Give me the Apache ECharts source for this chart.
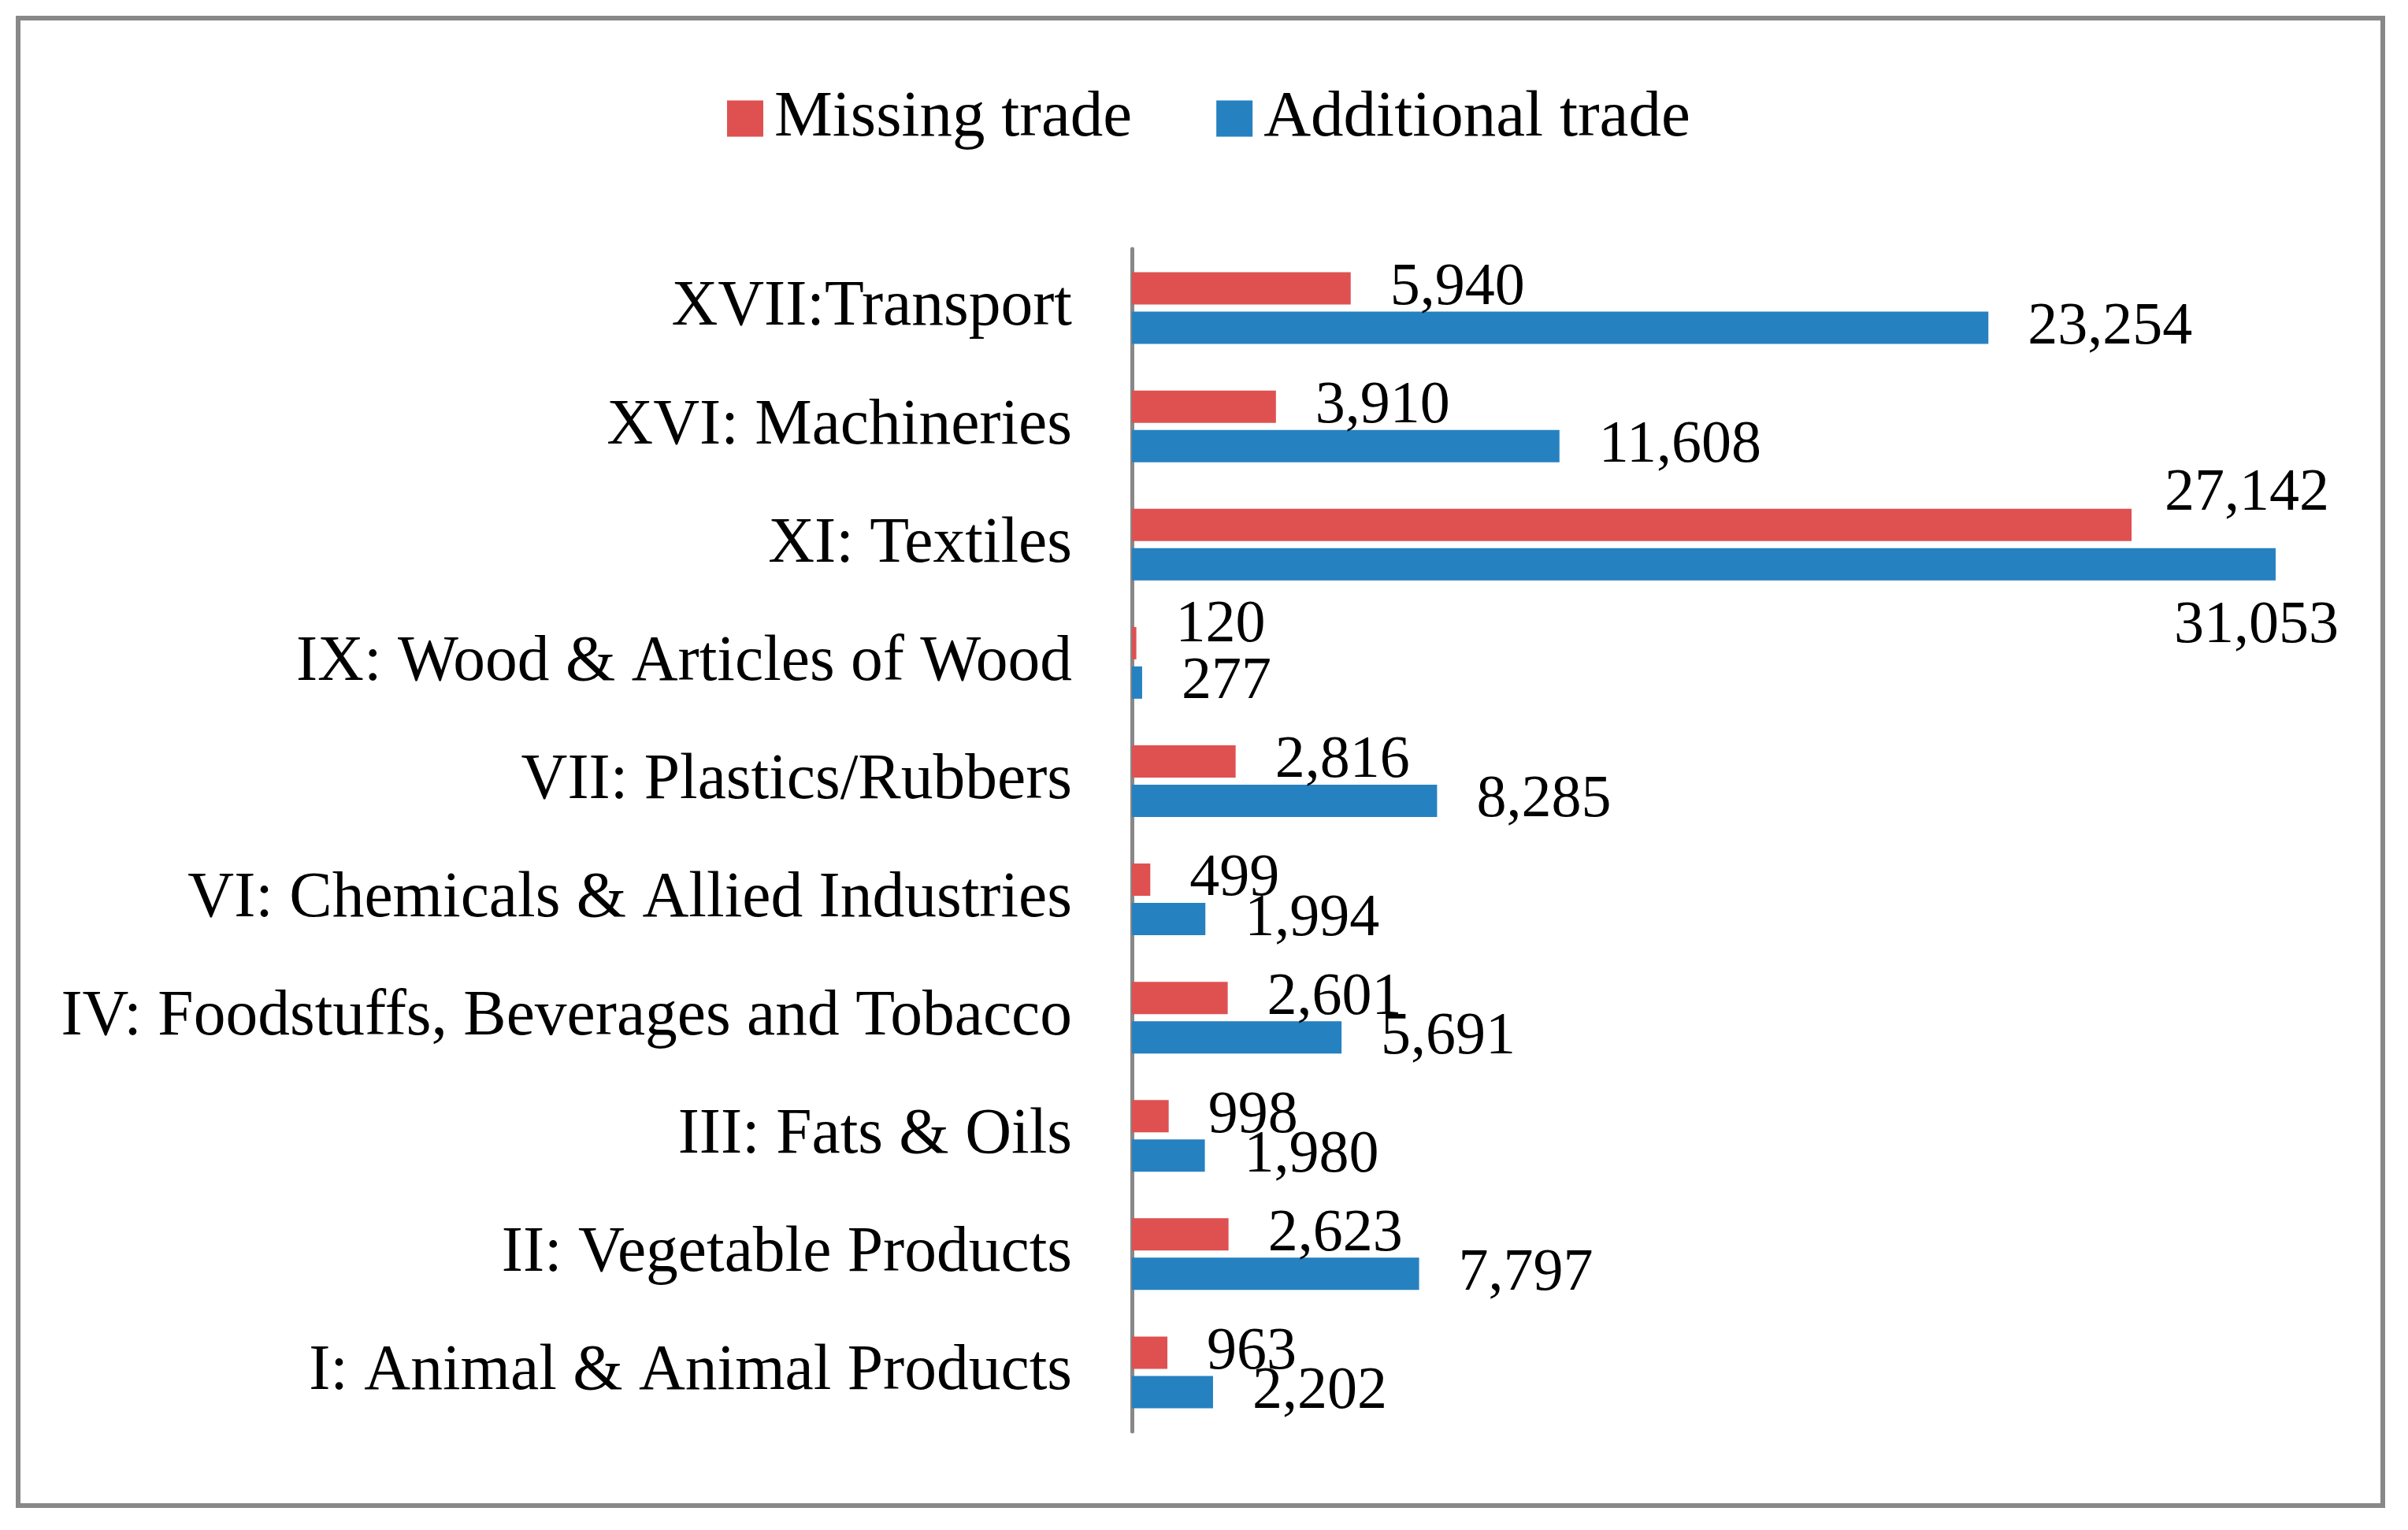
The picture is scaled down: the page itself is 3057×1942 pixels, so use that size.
<!DOCTYPE html>
<html>
<head>
<meta charset="utf-8">
<script src="https://cdn.jsdelivr.net/npm/echarts@6/dist/echarts.min.js"></script>
<style>
html,body{margin:0;padding:0;background:#fff;}
#chart{width:3057px;height:1942px;}
</style>
</head>
<body>
<div id="chart"></div>
<script>
var categories = [
  'I: Animal & Animal Products',
  'II: Vegetable Products',
  'III: Fats & Oils',
  'IV: Foodstuffs, Beverages and Tobacco',
  'VI: Chemicals & Allied Industries',
  'VII: Plastics/Rubbers',
  'IX: Wood & Articles of Wood',
  'XI: Textiles',
  'XVI: Machineries',
  'XVII:Transport'
];
var missingTrade = [963, 2623, 998, 2601, 499, 2816, 120, 27142, 3910, 5940];
var additionalTrade = [2202, 7797, 1980, 5691, 1994, 8285, 277, 31053, 11608, 23254];
var seriesNames = ['Missing trade', 'Additional trade'];

var FONT = 'Liberation Serif';

// manual label offsets (moved labels in the original)
var missingOffsets = {6: [0, -22], 7: [-8, -39]};
var additionalOffsets = {7: [-179, 79]};

function build(values, offsets) {
  return values.map(function (v, i) {
    var item = {value: v};
    if (offsets[i]) item.label = {offset: offsets[i]};
    return item;
  });
}

var chart = echarts.init(document.getElementById('chart'));
var labelCfg = {
  show: true,
  position: 'right',
  distance: 50,
  fontFamily: FONT,
  fontSize: 76,
  color: '#000',
  formatter: function (p) { return p.value.toLocaleString('en-US'); }
};
chart.setOption({
  animation: false,
  backgroundColor: '#fff',
  graphic: [{
    type: 'rect',
    shape: {x: 23, y: 23, width: 3002, height: 1888},
    style: {fill: 'none', stroke: '#888888', lineWidth: 6},
    silent: true
  }],
  legend: {
    data: seriesNames,
    top: 104,
    left: 918,
    icon: 'rect',
    itemWidth: 46,
    itemHeight: 46,
    itemGap: 107,
    textStyle: {fontFamily: FONT, fontSize: 83, color: '#000', padding: [0, 0, 0, 9]}
  },
  grid: {left: 1437, right: 77, top: 316, bottom: 125, containLabel: false},
  xAxis: {
    type: 'value',
    min: 0,
    max: 33000,
    show: false
  },
  yAxis: {
    type: 'category',
    data: categories,
    axisLine: {show: true, lineStyle: {color: '#888888', width: 5}},
    axisTick: {show: false},
    splitLine: {show: false},
    axisLabel: {interval: 0, margin: 76, fontFamily: FONT, fontSize: 81.5, color: '#000'}
  },
  series: [
    {
      name: seriesNames[0],
      type: 'bar',
      data: build(missingTrade, missingOffsets),
      barWidth: 41,
      barGap: '22%',
      itemStyle: {color: '#DE5150'},
      label: labelCfg
    },
    {
      name: seriesNames[1],
      type: 'bar',
      data: build(additionalTrade, additionalOffsets),
      barWidth: 41,
      barGap: '22%',
      itemStyle: {color: '#2681C1'},
      label: labelCfg
    }
  ]
});
</script>
</body>
</html>
